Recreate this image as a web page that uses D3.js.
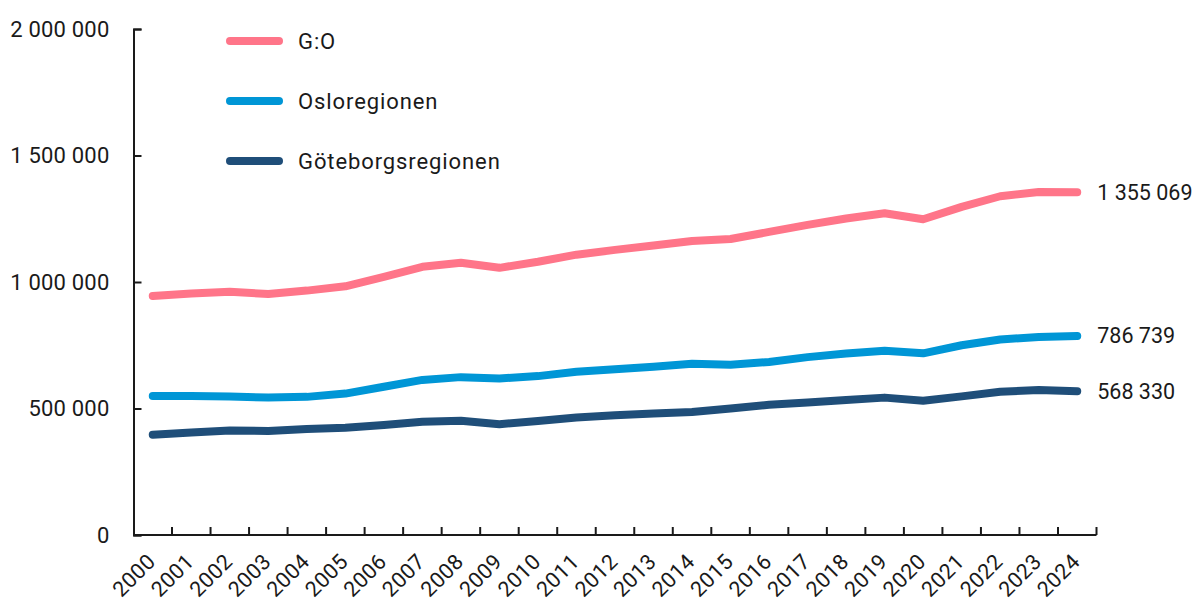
<!DOCTYPE html>
<html>
<head>
<meta charset="utf-8">
<script src="https://cdn.jsdelivr.net/npm/d3@7"></script>
<style>
  html, body { margin: 0; padding: 0; background: #fff; }
  svg { display: block; font-family: Roboto, "Noto Sans", sans-serif; }
</style>
</head>
<body>
<svg id="chart" width="1196" height="606"></svg>
<script>
const years = ["2000","2001","2002","2003","2004","2005","2006","2007","2008","2009","2010","2011","2012","2013","2014","2015","2016","2017","2018","2019","2020","2021","2022","2023","2024"];
const seriesNames = ["G:O", "Osloregionen", "Göteborgsregionen"];
const goValues = [945000, 955000, 961000, 953000, 966000, 983000, 1020000, 1060000, 1076000, 1056000, 1080000, 1108000, 1127000, 1144000, 1162000, 1170000, 1198000, 1226000, 1251000, 1272000, 1248000, 1297000, 1339000, 1356000, 1355069];
const osloValues = [549000, 549000, 547000, 543000, 546000, 559000, 586000, 613000, 624000, 619000, 628000, 645000, 655000, 665000, 677000, 673000, 684000, 703000, 717000, 728000, 718000, 750000, 773000, 783000, 786739];
const gbgValues = [396000, 405000, 413000, 411000, 419000, 424000, 435000, 448000, 452000, 438000, 451000, 464000, 473000, 480000, 486000, 500000, 515000, 524000, 534000, 543000, 531000, 548000, 566000, 573000, 568330];
const yTicks = [0, 500000, 1000000, 1500000, 2000000];
const colors = ["#ff7589", "#0096d6", "#1f4e79"];

(function () {
const allValues = [goValues, osloValues, gbgValues];
const svg = d3.select("#chart");
const mLeft = 133.5, mRight = 1096.5, mTop = 29, mBottom = 535;

const x = d3.scaleBand().domain(years).range([mLeft, mRight]);
const y = d3.scaleLinear().domain([0, 2000000]).range([mBottom, mTop]);
const loc = d3.formatLocale({decimal: ",", thousands: "\u00a0", grouping: [3], currency: ["", ""]});
const fmt = loc.format(",d");
const axisColor = "#1a1a1a";
const textColor = "#1a1a1a";
const fs = 22;
const fw = 400;

function styleText(sel, ls, size) {
  sel.attr("fill", textColor).attr("font-size", size || fs).attr("font-family", "Roboto")
    .attr("font-weight", fw).attr("letter-spacing", ls);
}

// Y axis
const yAxis = svg.append("g").attr("transform", `translate(${mLeft},0)`)
  .call(d3.axisLeft(y).tickValues(yTicks).tickFormat(fmt).tickSize(-8).tickPadding(24));
yAxis.select(".domain").attr("stroke", axisColor).attr("stroke-width", 2);
yAxis.selectAll(".tick line").attr("stroke", axisColor).attr("stroke-width", 2);
styleText(yAxis.selectAll(".tick text"), 0.2);

// X axis labels (band centers)
const xAxis = svg.append("g").attr("transform", `translate(0,${mBottom})`)
  .call(d3.axisBottom(x).tickSize(0).tickPadding(0));
xAxis.select(".domain").remove();
styleText(xAxis.selectAll(".tick text"), 0.4, 21.5);
xAxis.selectAll(".tick text")
  .attr("text-anchor", "end")
  .attr("y", 0).attr("dy", 0)
  .attr("transform", "translate(4,28) rotate(-45)");

// X axis line + boundary ticks
svg.append("line").attr("x1", mLeft).attr("x2", mRight).attr("y1", mBottom).attr("y2", mBottom)
  .attr("stroke", axisColor).attr("stroke-width", 2);
const boundaries = years.map((d) => x(d) + x.step());
svg.append("g").selectAll("line").data(boundaries).join("line")
  .attr("x1", d => d).attr("x2", d => d)
  .attr("y1", mBottom).attr("y2", mBottom - 8)
  .attr("stroke", axisColor).attr("stroke-width", 2);

// Lines
const line = d3.line()
  .x((d, i) => x(years[i]) + x.bandwidth() / 2)
  .y(d => y(d));
allValues.forEach((vals, k) => {
  svg.append("path").datum(vals)
    .attr("d", line)
    .attr("fill", "none")
    .attr("stroke", colors[k])
    .attr("stroke-width", 8)
    .attr("stroke-linecap", "round")
    .attr("stroke-linejoin", "round");
});

// End labels
allValues.forEach((vals, k) => {
  const last = vals[vals.length - 1];
  const t = svg.append("text")
    .attr("x", x(years[years.length - 1]) + x.bandwidth() / 2 + 20)
    .attr("y", y(last))
    .attr("dy", "0.35em")
    .text(fmt(last));
  styleText(t, 0, 21.5);
});

// Legend
const legend = svg.append("g");
seriesNames.forEach((name, k) => {
  const ly = 41 + k * 60;
  legend.append("line").attr("x1", 230).attr("x2", 279).attr("y1", ly).attr("y2", ly)
    .attr("stroke", colors[k]).attr("stroke-width", 8).attr("stroke-linecap", "round");
  const t = legend.append("text").attr("x", 298).attr("y", ly).attr("dy", "0.35em")
    .text(name);
  styleText(t, 0.9);
});
})();
</script>
</body>
</html>
